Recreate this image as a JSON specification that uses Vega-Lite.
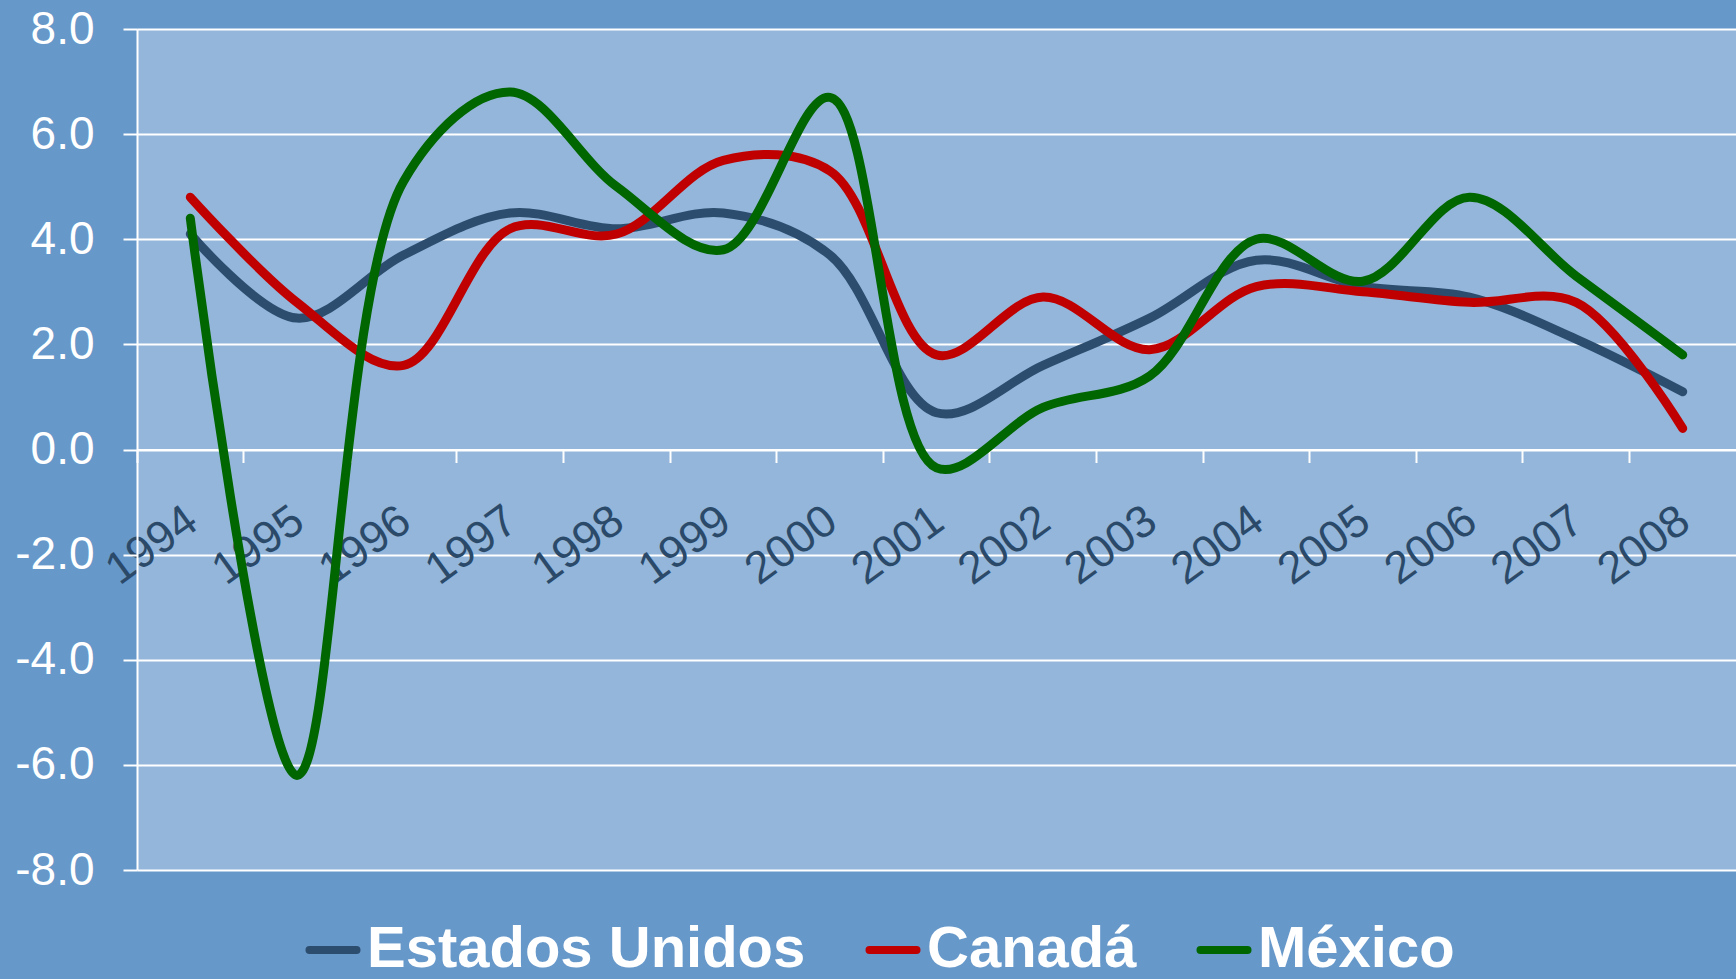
{
  "$schema": "https://vega.github.io/schema/vega-lite/v6.json",
  "width": 1599,
  "height": 841,
  "autosize": {"type": "none"},
  "padding": {"left": 137, "top": 29, "right": 0, "bottom": 109},
  "background": "#6698CA",
  "view": {"fill": "#93B6DA", "stroke": null},
  "data": {
    "values": [
      {"year": "1994", "country": "Estados Unidos", "value": 4.1},
      {"year": "1995", "country": "Estados Unidos", "value": 2.5},
      {"year": "1996", "country": "Estados Unidos", "value": 3.7},
      {"year": "1997", "country": "Estados Unidos", "value": 4.5},
      {"year": "1998", "country": "Estados Unidos", "value": 4.2},
      {"year": "1999", "country": "Estados Unidos", "value": 4.5},
      {"year": "2000", "country": "Estados Unidos", "value": 3.7},
      {"year": "2001", "country": "Estados Unidos", "value": 0.7},
      {"year": "2002", "country": "Estados Unidos", "value": 1.6},
      {"year": "2003", "country": "Estados Unidos", "value": 2.5},
      {"year": "2004", "country": "Estados Unidos", "value": 3.6},
      {"year": "2005", "country": "Estados Unidos", "value": 3.1},
      {"year": "2006", "country": "Estados Unidos", "value": 2.9},
      {"year": "2007", "country": "Estados Unidos", "value": 2.1},
      {"year": "2008", "country": "Estados Unidos", "value": 1.1},
      {"year": "1994", "country": "Canadá", "value": 4.8},
      {"year": "1995", "country": "Canadá", "value": 2.8},
      {"year": "1996", "country": "Canadá", "value": 1.6},
      {"year": "1997", "country": "Canadá", "value": 4.2},
      {"year": "1998", "country": "Canadá", "value": 4.1},
      {"year": "1999", "country": "Canadá", "value": 5.5},
      {"year": "2000", "country": "Canadá", "value": 5.3},
      {"year": "2001", "country": "Canadá", "value": 1.8},
      {"year": "2002", "country": "Canadá", "value": 2.9},
      {"year": "2003", "country": "Canadá", "value": 1.9},
      {"year": "2004", "country": "Canadá", "value": 3.1},
      {"year": "2005", "country": "Canadá", "value": 3.0},
      {"year": "2006", "country": "Canadá", "value": 2.8},
      {"year": "2007", "country": "Canadá", "value": 2.8},
      {"year": "2008", "country": "Canadá", "value": 0.4},
      {"year": "1994", "country": "México", "value": 4.4},
      {"year": "1995", "country": "México", "value": -6.2},
      {"year": "1996", "country": "México", "value": 5.1},
      {"year": "1997", "country": "México", "value": 6.8},
      {"year": "1998", "country": "México", "value": 5.0},
      {"year": "1999", "country": "México", "value": 3.8},
      {"year": "2000", "country": "México", "value": 6.7},
      {"year": "2001", "country": "México", "value": -0.35},
      {"year": "2002", "country": "México", "value": 0.8},
      {"year": "2003", "country": "México", "value": 1.4},
      {"year": "2004", "country": "México", "value": 4.0},
      {"year": "2005", "country": "México", "value": 3.2},
      {"year": "2006", "country": "México", "value": 4.8},
      {"year": "2007", "country": "México", "value": 3.3},
      {"year": "2008", "country": "México", "value": 1.8}
    ]
  },
  "mark": {"type": "line", "interpolate": "catmull-rom", "strokeWidth": 9, "strokeCap": "round", "strokeJoin": "round"},
  "encoding": {
    "x": {
      "field": "year",
      "type": "nominal",
      "sort": null,
      "scale": {"type": "band", "paddingInner": 0, "paddingOuter": 0},
      "axis": {
        "title": null,
        "offset": -420.5,
        "domainColor": "#FFFFFF",
        "domainWidth": 2,
        "bandPosition": 0,
        "ticks": true,
        "tickColor": "#FFFFFF",
        "tickWidth": 2,
        "tickSize": 13,
        "grid": false,
        "labelAngle": -36,
        "labelAlign": "right",
        "labelBaseline": "top",
        "labelPadding": 35,
        "labelOffset": -11,
        "labelFont": "Liberation Sans",
        "labelFontSize": 45,
        "labelColor": "#2B4A6A",
        "labelOverlap": false,
        "labelBound": false,
        "labelFlush": false
      }
    },
    "y": {
      "field": "value",
      "type": "quantitative",
      "scale": {"domain": [-8, 8], "nice": false, "zero": false},
      "axis": {
        "title": null,
        "values": [-8, -6, -4, -2, 0, 2, 4, 6, 8],
        "labelExpr": "replace(format(datum.value, '.1f'), '−', '-')",
        "domainColor": "#FFFFFF",
        "domainWidth": 2,
        "tickColor": "#FFFFFF",
        "tickWidth": 2,
        "tickSize": 14,
        "grid": true,
        "gridColor": "#FFFFFF",
        "gridWidth": 2,
        "gridOpacity": 1,
        "labelPadding": 29,
        "labelFont": "Liberation Sans",
        "labelFontSize": 46,
        "labelColor": "#FFFFFF",
        "labelOverlap": false,
        "labelBound": false,
        "labelFlush": false
      }
    },
    "color": {
      "field": "country",
      "type": "nominal",
      "scale": {"domain": ["Estados Unidos", "Canadá", "México"], "range": ["#2C4D6E", "#C00000", "#006600"]},
      "legend": {
        "title": null,
        "orient": "none",
        "legendX": 167,
        "legendY": 892,
        "direction": "horizontal",
        "symbolType": "stroke",
        "symbolSize": 2209,
        "symbolStrokeWidth": 8,
        "labelFont": "Liberation Sans",
        "labelFontWeight": "bold",
        "labelFontSize": 58,
        "labelColor": "#FFFFFF",
        "labelLimit": 1000,
        "labelOffset": 5,
        "columnPadding": 47,
        "padding": 0,
        "encode": {"symbols": {"update": {"strokeCap": {"value": "round"}}}}
      }
    }
  }
}
